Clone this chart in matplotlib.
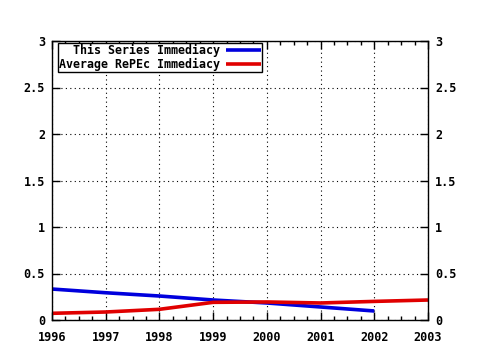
import matplotlib
matplotlib.use("Agg")
import matplotlib.pyplot as plt
from matplotlib.ticker import MultipleLocator

# values
years_series = [1996, 1997, 1998, 1999, 2000, 2001, 2002]
series_immediacy = [0.333, 0.293, 0.258, 0.215, 0.183, 0.14, 0.097]

years_repec = [1996, 1997, 1998, 1999, 2000, 2001, 2002, 2003]
repec_immediacy = [0.072, 0.086, 0.115, 0.19, 0.194, 0.183, 0.2, 0.215]

x_ticks = [1996, 1997, 1998, 1999, 2000, 2001, 2002, 2003]
y_ticks = [0, 0.5, 1, 1.5, 2, 2.5, 3]
y_labels = ["0", "0.5", "1", "1.5", "2", "2.5", "3"]

plt.rcParams["font.family"] = "DejaVu Sans Mono"
plt.rcParams["font.weight"] = "bold"
plt.rcParams["font.size"] = 8.5

fig = plt.figure(figsize=(4.8, 3.5), dpi=100)
ax = fig.add_axes([52 / 480, 30 / 350, 376 / 480, 279 / 350])

ax.plot(years_series, series_immediacy, color="#0000dd", lw=2.6,
        label="This Series Immediacy", solid_capstyle="butt")
ax.plot(years_repec, repec_immediacy, color="#e00000", lw=2.6,
        label="Average RePEc Immediacy", solid_capstyle="butt")

ax.set_xlim(1996, 2003)
ax.set_ylim(0, 3)
ax.set_xticks(x_ticks)
ax.set_xticklabels([str(x) for x in x_ticks])
ax.set_yticks(y_ticks)
ax.set_yticklabels(y_labels)
ax.xaxis.set_minor_locator(MultipleLocator(0.25))

ax.tick_params(which="both", direction="in", top=True, right=True,
               labelright=True, colors="black")
ax.tick_params(which="major", length=6, width=1, pad=5)
ax.tick_params(which="minor", length=3, width=1)
ax.tick_params(axis="x", pad=8)

ax.grid(True, which="major", color="black", linestyle=(0, (1, 3)), lw=0.8)
for s in ax.spines.values():
    s.set_linewidth(1)
    s.set_color("black")

leg = ax.legend(loc="upper left", bbox_to_anchor=(0.016, 0.993),
                borderaxespad=0, markerfirst=False, fancybox=False,
                framealpha=1, edgecolor="black", handlelength=3.0,
                handletextpad=0.5, labelspacing=0.05, borderpad=0.1,
                fontsize=8.4)
leg.get_frame().set_linewidth(1)

fig.savefig("out.png", dpi=100)
